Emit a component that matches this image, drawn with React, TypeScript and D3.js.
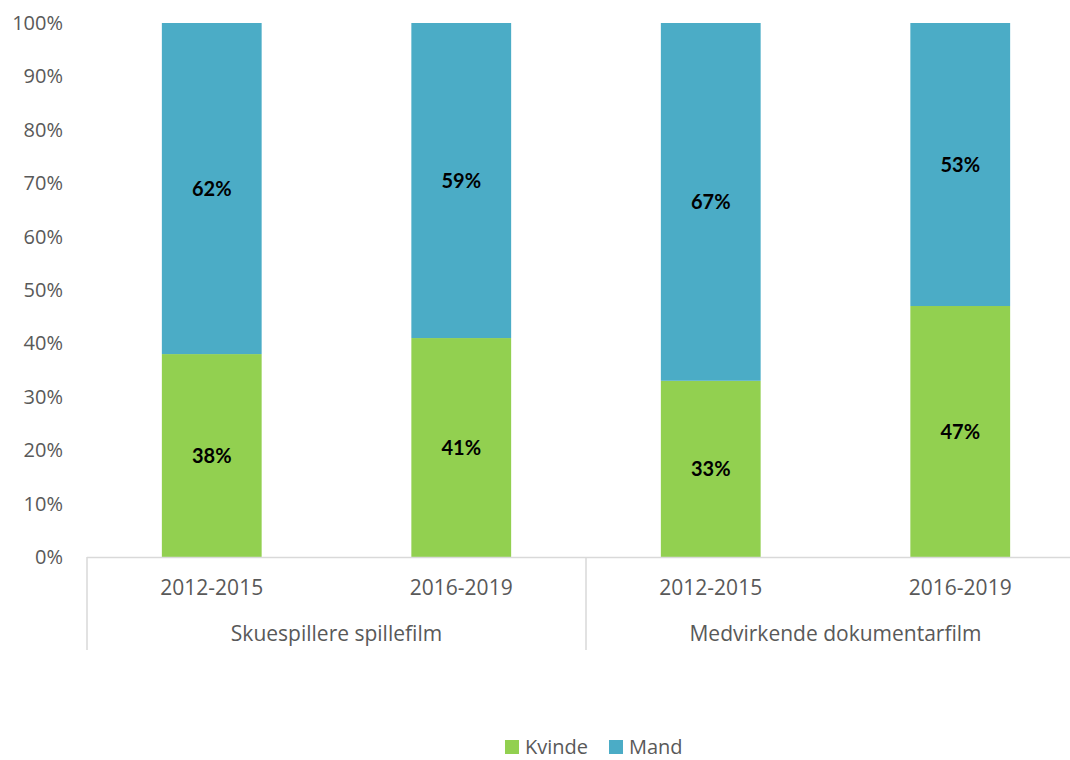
import React from "react";
import * as d3 from "d3";

const periods = ["2012-2015", "2016-2019", "2012-2015", "2016-2019"];
const groups = ["Skuespillere spillefilm", "Medvirkende dokumentarfilm"];
const kvinde = [0.38, 0.41, 0.33, 0.47];
const mand = [0.62, 0.59, 0.67, 0.53];
const yTicks = [0, 0.1, 0.2, 0.3, 0.4, 0.5, 0.6, 0.7, 0.8, 0.9, 1.0];
const seriesNames = ["Kvinde", "Mand"];
const colors = ["#92D050", "#4BACC6"];

export default function App() {
  const W = 1070, H = 760;
  const left = 87, right = 1085, top = 23, bottom = 557;
  const idx = periods.map((_, i) => String(i));
  const x = d3.scaleBand<string>().domain(idx).range([left, right]).paddingInner(0.6).paddingOuter(0.3);
  const y = d3.scaleLinear().domain([0, 1]).range([bottom, top]);
  const groupScale = d3.scaleBand<string>().domain(groups).range([left, right]);
  const font = "'Open Sans', sans-serif";
  const fmt = d3.format(".0%");
  const stacked = periods.map((_, i) => {
    const k = kvinde[i], m = mand[i];
    return [
      { y0: 0, y1: k, v: k },
      { y0: k, y1: k + m, v: m },
    ];
  });
  return (
    <svg width={W} height={H} style={{ position: "absolute", left: 0, top: 0, background: "#fff" }}>
      {yTicks.map((t) => (
        <text key={t} x={63} y={y(t)} dy="0.35em" textAnchor="end" fontFamily={font} fontSize={20} fill="#595959">
          {fmt(t)}
        </text>
      ))}
      {stacked.map((segs, i) =>
        segs.map((s, j) => (
          <g key={i + "-" + j}>
            <rect x={x(String(i))} y={y(s.y1)} width={x.bandwidth()} height={y(s.y0) - y(s.y1)} fill={colors[j]} />
            <text
              x={(x(String(i)) as number) + x.bandwidth() / 2}
              y={(y(s.y0) + y(s.y1)) / 2}
              dy="0.35em"
              textAnchor="middle"
              fontFamily="Lato, sans-serif"
              fontWeight="bold"
              fontSize={20}
              fill="#000"
            >
              {fmt(s.v)}
            </text>
          </g>
        ))
      )}
      <line x1={left} x2={right} y1={bottom + 0.5} y2={bottom + 0.5} stroke="#D9D9D9" strokeWidth={1.5} />
      {[...groups.map((g) => groupScale(g) as number), right].map((gx, i) => (
        <line key={i} x1={gx} x2={gx} y1={bottom} y2={650} stroke="#D9D9D9" strokeWidth={1.5} />
      ))}
      {periods.map((p, i) => (
        <text key={i} x={(x(String(i)) as number) + x.bandwidth() / 2} y={595} textAnchor="middle" fontFamily={font} fontSize={21} fill="#595959">
          {p}
        </text>
      ))}
      {groups.map((g) => (
        <text key={g} x={(groupScale(g) as number) + groupScale.bandwidth() / 2} y={641} textAnchor="middle" fontFamily={font} fontSize={21} fill="#595959">
          {g}
        </text>
      ))}
      {seriesNames.map((s, i) => (
        <g key={s} transform={`translate(${505 + i * 104},740)`}>
          <rect x={0} y={0} width={14} height={14} fill={colors[i]} />
          <text x={20} y={14} fontFamily={font} fontSize={20} fill="#595959">
            {s}
          </text>
        </g>
      ))}
    </svg>
  );
}
